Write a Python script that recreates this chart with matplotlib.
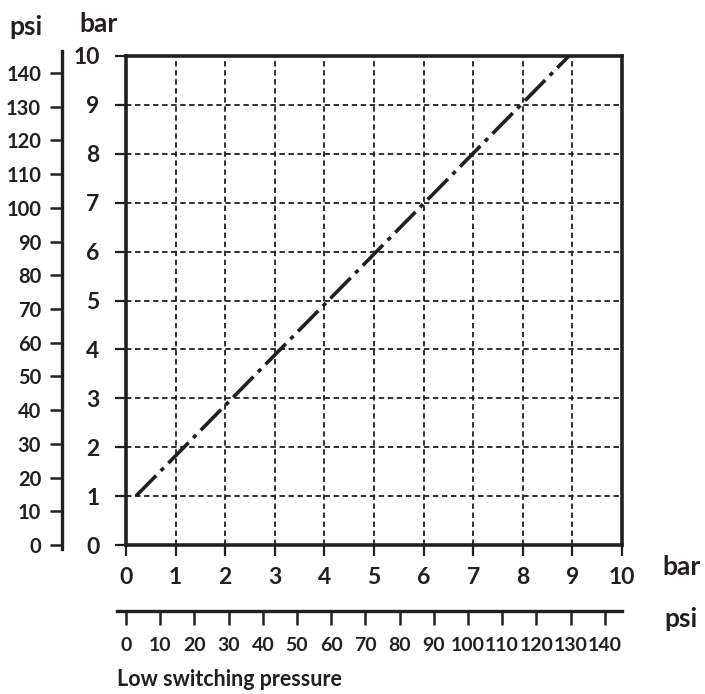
import numpy as np
import matplotlib
matplotlib.use("Agg")
import matplotlib.pyplot as plt

# switching pressure line (bar)
line_x = [0.2, 8.93]
line_y = [1.0, 10.0]

bar_ticks = list(range(0, 11))
psi_ticks = list(range(0, 150, 10))

PSI_PER_BAR = 14.5038
INK = "#231f20"

plt.rcParams['font.family'] = ['Lato', 'DejaVu Sans']
plt.rcParams['font.weight'] = 'bold'


def bar2psi(x):
    return np.asarray(x) * PSI_PER_BAR


def psi2bar(x):
    return np.asarray(x) / PSI_PER_BAR


fig = plt.figure(figsize=(7.05, 6.94), dpi=100)
ax = fig.add_axes([126 / 705, 149 / 694, 496 / 705, 489 / 694])

ax.set_xlim(0, 10)
ax.set_ylim(0, 10)
ax.set_xticks(bar_ticks)
ax.set_yticks(bar_ticks)
ax.grid(True, color=INK, linestyle=(0, (3, 2)), linewidth=1.3)

for s in ax.spines.values():
    s.set_linewidth(2.6)
    s.set_color(INK)

ax.tick_params(axis='both', direction='out', length=8, width=1.6, color=INK,
               labelsize=16.5, labelcolor=INK)
ax.tick_params(axis='x', pad=8)
ax.tick_params(axis='y', pad=11)

# pressure line
ax.plot(line_x, line_y, color=INK, linewidth=2.6,
        dashes=(8, 1.8, 1.2, 1.8), clip_on=False, solid_capstyle='butt')

# left psi scale
sy = ax.secondary_yaxis(-64 / 496, functions=(bar2psi, psi2bar))
sy.set_yticks(psi_ticks)
sy.spines['left'].set_linewidth(2.4)
sy.spines['left'].set_color(INK)
sy.spines['left'].set_bounds(-1.3, 146.5)
sy.tick_params(direction='out', length=9, width=1.8, color=INK,
               labelsize=14.5, labelcolor=INK, pad=6)

# bottom psi scale
sx = ax.secondary_xaxis(-66 / 489, functions=(bar2psi, psi2bar))
sx.set_xticks(psi_ticks)
sx.spines['bottom'].set_linewidth(2.4)
sx.spines['bottom'].set_color(INK)
sx.spines['bottom'].set_bounds(-2.6, 145)
sx.tick_params(direction='out', length=10, width=1.8, color=INK,
               labelsize=14, labelcolor=INK, pad=9)

# unit labels
fig.text(9 / 705, 1 - 27 / 694, "psi", fontsize=19, color=INK, va='center')
fig.text(79 / 705, 1 - 24 / 694, "bar", fontsize=19, color=INK, va='center')
fig.text(662 / 705, 1 - 567 / 694, "bar", fontsize=19, color=INK, va='center')
fig.text(664 / 705, 1 - 619 / 694, "psi", fontsize=19, color=INK, va='center')
fig.text(117 / 705, 1 - 680 / 694, "Low switching pressure", fontsize=15.5,
         color=INK, va='center')

fig.savefig("out.png", dpi=100)
